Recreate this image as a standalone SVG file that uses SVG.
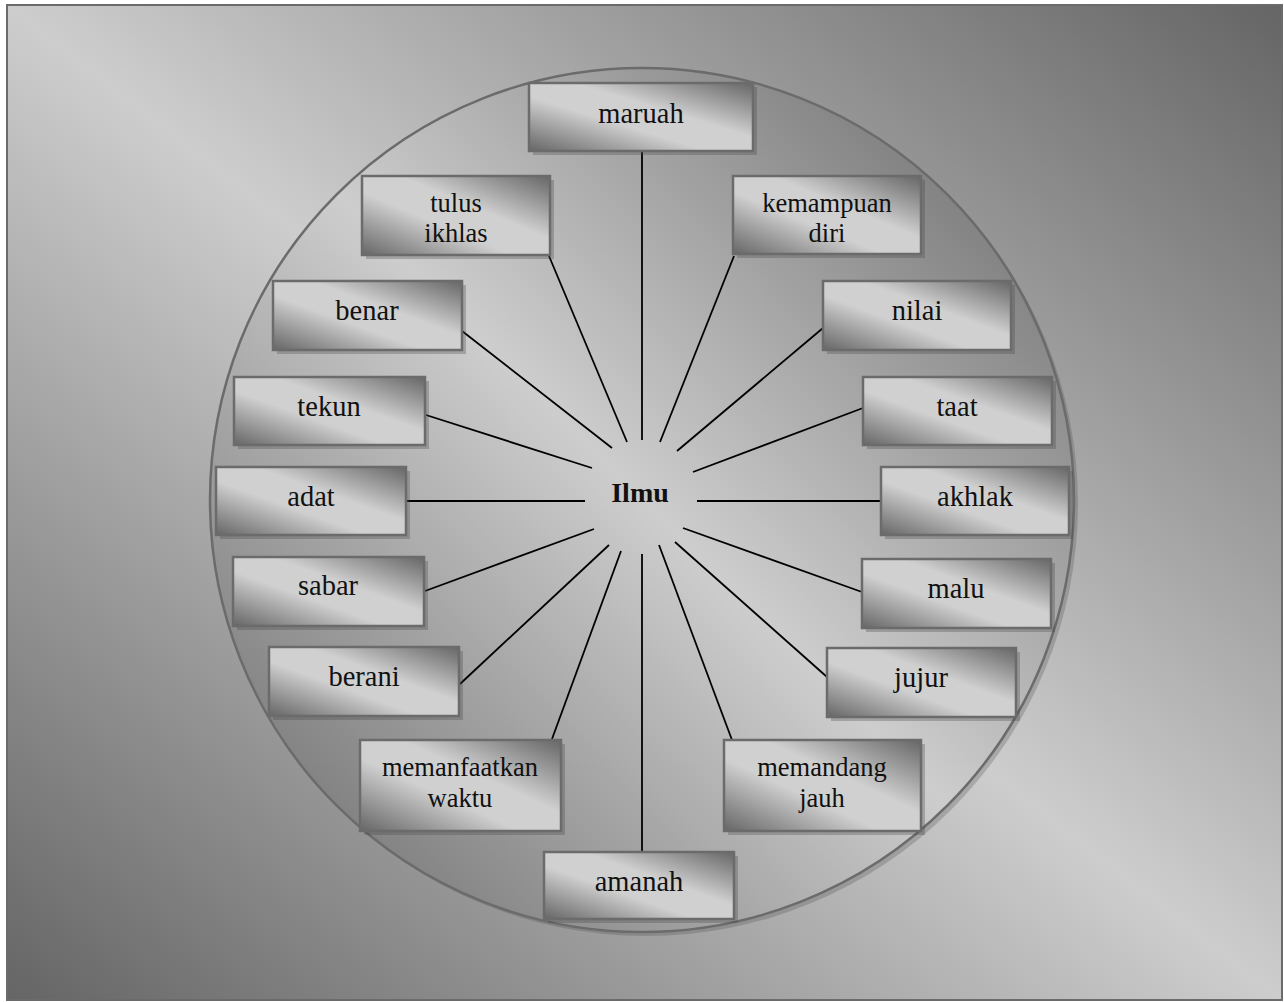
<svg xmlns="http://www.w3.org/2000/svg" width="1284" height="1002" viewBox="0 0 1284 1002">
<defs>
<linearGradient id="gBg" x1="1" y1="0" x2="0" y2="1">
<stop offset="0" stop-color="#656565"/>
<stop offset="0.5" stop-color="#cdcdcd"/>
<stop offset="1" stop-color="#656565"/>
</linearGradient>
<linearGradient id="gBox" x1="1" y1="0" x2="0" y2="1">
<stop offset="0" stop-color="#666666"/>
<stop offset="0.25" stop-color="#a8a8a8"/>
<stop offset="0.4" stop-color="#d0d0d0"/>
<stop offset="0.6" stop-color="#d0d0d0"/>
<stop offset="0.75" stop-color="#a8a8a8"/>
<stop offset="1" stop-color="#666666"/>
</linearGradient>
<style>
.box{fill:url(#gBox);stroke:#6b6b6b;stroke-width:2.5}
.sh{fill:#444;opacity:0.3}
.t{font-family:"Liberation Serif","Times New Roman",serif;font-size:28.5px;fill:#111;text-anchor:middle}
.t2{font-family:"Liberation Serif","Times New Roman",serif;font-size:26.5px;fill:#111;text-anchor:middle}
.c line{stroke:#000;stroke-width:1.8}
</style>
</defs>
<rect x="0" y="0" width="1284" height="1002" fill="#ffffff"/>
<rect x="7" y="5" width="1275" height="995" fill="url(#gBg)" stroke="#6b6b6b" stroke-width="2"/>
<circle cx="646" cy="504" r="432" fill="#444" opacity="0.25"/>
<circle id="circle" cx="642" cy="500" r="432" fill="url(#gBg)" stroke="#6b6b6b" stroke-width="2.5"/>
<g class="c" id="connectors">
<line x1="642" y1="152" x2="642" y2="440"/>
<line x1="549" y1="256" x2="627" y2="442"/>
<line x1="734" y1="256" x2="660" y2="442"/>
<line x1="462" y1="331" x2="612" y2="448"/>
<line x1="823" y1="328" x2="677" y2="451"/>
<line x1="426" y1="415" x2="592" y2="468"/>
<line x1="863" y1="408" x2="693" y2="472"/>
<line x1="406" y1="501" x2="585" y2="501"/>
<line x1="881" y1="501" x2="697" y2="501"/>
<line x1="425" y1="591" x2="594" y2="529"/>
<line x1="862" y1="592" x2="683" y2="528"/>
<line x1="460" y1="684" x2="609" y2="545"/>
<line x1="827" y1="677" x2="675" y2="542"/>
<line x1="552" y1="739" x2="621" y2="551"/>
<line x1="732" y1="740" x2="659" y2="545"/>
<line x1="642" y1="554" x2="642" y2="851"/>
</g>
<g id="n-ilmu"><text x="640" y="502" style="font-family:'Liberation Serif','Times New Roman',serif;font-size:28px;font-weight:bold;text-anchor:middle;fill:#111">Ilmu</text></g>
<g id="n-maruah"><rect class="sh" x="533" y="87" width="224" height="68"/><rect class="box" x="529" y="83" width="224" height="68"/><text class="t" x="641" y="123">maruah</text></g>
<g id="n-tulus"><rect class="sh" x="366" y="180" width="188" height="79"/><rect class="box" x="362" y="176" width="188" height="79"/><text class="t2" x="456" y="212">tulus</text><text class="t2" x="456" y="242">ikhlas</text></g>
<g id="n-kemampuan"><rect class="sh" x="737" y="180" width="188" height="78"/><rect class="box" x="733" y="176" width="188" height="78"/><text class="t2" x="827" y="212">kemampuan</text><text class="t2" x="827" y="242">diri</text></g>
<g id="n-benar"><rect class="sh" x="277" y="285" width="189" height="69"/><rect class="box" x="273" y="281" width="189" height="69"/><text class="t" x="367" y="320">benar</text></g>
<g id="n-nilai"><rect class="sh" x="827" y="285" width="188" height="69"/><rect class="box" x="823" y="281" width="188" height="69"/><text class="t" x="917" y="320">nilai</text></g>
<g id="n-tekun"><rect class="sh" x="238" y="381" width="191" height="68"/><rect class="box" x="234" y="377" width="191" height="68"/><text class="t" x="329" y="416">tekun</text></g>
<g id="n-taat"><rect class="sh" x="867" y="381" width="189" height="68"/><rect class="box" x="863" y="377" width="189" height="68"/><text class="t" x="957" y="416">taat</text></g>
<g id="n-adat"><rect class="sh" x="220" y="471" width="190" height="68"/><rect class="box" x="216" y="467" width="190" height="68"/><text class="t" x="311" y="506">adat</text></g>
<g id="n-akhlak"><rect class="sh" x="885" y="471" width="188" height="68"/><rect class="box" x="881" y="467" width="188" height="68"/><text class="t" x="975" y="506">akhlak</text></g>
<g id="n-sabar"><rect class="sh" x="237" y="561" width="191" height="69"/><rect class="box" x="233" y="557" width="191" height="69"/><text class="t" x="328" y="595">sabar</text></g>
<g id="n-malu"><rect class="sh" x="866" y="563" width="189" height="69"/><rect class="box" x="862" y="559" width="189" height="69"/><text class="t" x="956" y="598">malu</text></g>
<g id="n-berani"><rect class="sh" x="273" y="651" width="190" height="69"/><rect class="box" x="269" y="647" width="190" height="69"/><text class="t" x="364" y="686">berani</text></g>
<g id="n-jujur"><rect class="sh" x="831" y="652" width="189" height="69"/><rect class="box" x="827" y="648" width="189" height="69"/><text class="t" x="921" y="687">jujur</text></g>
<g id="n-memanfaatkan"><rect class="sh" x="364" y="744" width="201" height="91"/><rect class="box" x="360" y="740" width="201" height="91"/><text class="t2" x="460" y="776">memanfaatkan</text><text class="t2" x="460" y="807">waktu</text></g>
<g id="n-memandang"><rect class="sh" x="728" y="744" width="197" height="91"/><rect class="box" x="724" y="740" width="197" height="91"/><text class="t2" x="822" y="776">memandang</text><text class="t2" x="822" y="807">jauh</text></g>
<g id="n-amanah"><rect class="sh" x="548" y="856" width="190" height="67"/><rect class="box" x="544" y="852" width="190" height="67"/><text class="t" x="639" y="891">amanah</text></g>
</svg>
